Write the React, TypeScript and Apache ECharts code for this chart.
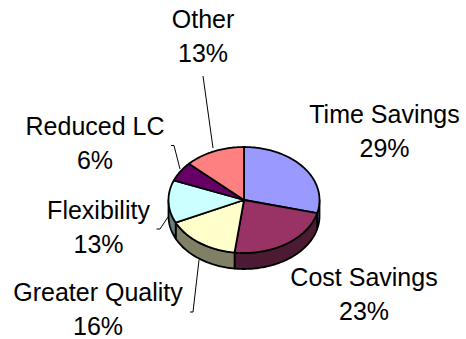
import React, { useEffect, useRef } from 'react';
import * as echarts from 'echarts';

const categories = ['Time Savings', 'Cost Savings', 'Greater Quality', 'Flexibility', 'Reduced LC', 'Other'];
const values = [29, 23, 16, 13, 6, 13];
const topColors = ['#9999FF', '#993366', '#FFFFCC', '#CCFFFF', '#660066', '#FF8080'];
const sideColors = ['#4D4D80', '#4D1A33', '#808066', '#668080', '#330033', '#804040'];

// label layout (centre x, first-line middle y)
const labelPos: [number, number][] = [
  [384.5, 113.5],
  [364, 277],
  [98, 292],
  [98.5, 210],
  [95, 126],
  [203, 18.5],
];
const leaderLines: [number, number][][] = [
  [],
  [],
  [[190, 312], [193, 312], [199, 260]],
  [[156.5, 229], [160, 229], [168, 217]],
  [[171, 145.5], [174, 145.5], [180, 169]],
  [[203, 76], [213, 148]],
];

const CX = 244;
const CY = 200;
const RX = 75.5;
const RY = 53;
const DEPTH = 16;

function pt(deg: number, dy = 0): number[] {
  const r = (deg * Math.PI) / 180;
  return [CX + RX * Math.sin(r), CY - RY * Math.cos(r) + dy];
}

function arc(a: number, b: number, dy = 0): number[][] {
  const pts: number[][] = [];
  const n = Math.max(2, Math.ceil(Math.abs(b - a)));
  for (let i = 0; i <= n; i++) pts.push(pt(a + ((b - a) * i) / n, dy));
  return pts;
}

export default function App() {
  const ref = useRef<HTMLDivElement>(null);
  useEffect(() => {
    document.body.style.margin = '0';
    if (!ref.current) return;
    const chart = echarts.init(ref.current, undefined, { renderer: 'svg' });
    const total = values.reduce((s, v) => s + v, 0);
    const starts: number[] = [];
    let acc = 0;
    values.forEach((v) => {
      starts.push((acc / total) * 360);
      acc += v;
    });

    const graphics: any[] = [];
    categories.forEach((name, i) => {
      const [x, y] = labelPos[i];
      const style = { fill: '#000', font: '25px "Liberation Sans", Arial, sans-serif', align: 'center', verticalAlign: 'middle' };
      graphics.push({ type: 'text', x, y, style: { ...style, text: name } });
      graphics.push({ type: 'text', x, y: y + 34, style: { ...style, text: `${values[i]}%` } });
      if (leaderLines[i].length) {
        graphics.push({ type: 'polyline', shape: { points: leaderLines[i] }, style: { stroke: '#000', lineWidth: 1, fill: 'none' } });
      }
    });

    chart.setOption({
      animation: false,
      backgroundColor: '#fff',
      graphic: graphics,
      series: [
        {
          type: 'custom',
          coordinateSystem: 'none',
          z: 1,
          data: values.map((v, i) => [i, v]),
          renderItem: (params: any, api: any) => {
            const i = params.dataIndex;
            const a = starts[i];
            const b = a + (api.value(1) / total) * 360;
            const s = Math.max(a, 90);
            const e = Math.min(b, 270);
            if (e <= s) return { type: 'group', children: [] };
            const top = arc(s, e);
            const bottom = arc(e, s, DEPTH);
            return {
              type: 'polygon',
              shape: { points: top.concat(bottom) },
              style: { fill: sideColors[i], stroke: '#000', lineWidth: 1.8, lineJoin: 'round' },
            };
          },
        },
        {
          type: 'custom',
          coordinateSystem: 'none',
          z: 2,
          data: values.map((v, i) => [i, v]),
          renderItem: (params: any, api: any) => {
            const i = params.dataIndex;
            const a = starts[i];
            const b = a + (api.value(1) / total) * 360;
            const pts = [[CX, CY]].concat(arc(a, b));
            return {
              type: 'polygon',
              shape: { points: pts },
              style: { fill: topColors[i], stroke: '#000', lineWidth: 1.8, lineJoin: 'round' },
            };
          },
        },
      ],
    });
    return () => chart.dispose();
  }, []);
  return <div ref={ref} style={{ width: 466, height: 339 }} />;
}
